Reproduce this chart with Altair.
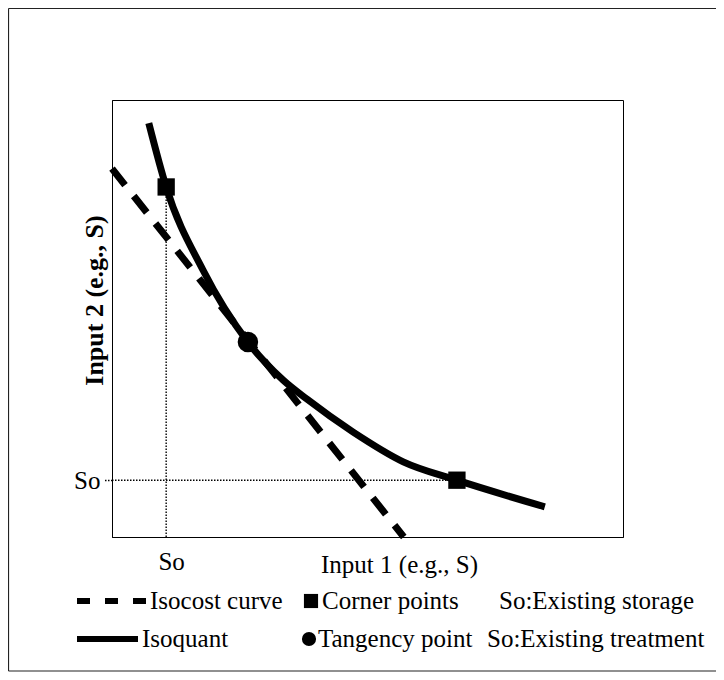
import altair as alt
import pandas as pd

# ---- values (data units: 0-100 on both axes) ----
isoquant_x = [7.2, 10.6, 17.8, 26.6, 33.5, 38.2, 47.2, 57.0, 67.5, 84.7]
isoquant_y = [94.7, 80.1, 61.1, 44.6, 35.9, 31.5, 24.0, 17.2, 13.0, 6.9]
isocost_x = [0.0, 57.1]
isocost_y = [84.3, 0.0]
corner_x = [10.6, 67.5]
corner_y = [80.1, 13.0]
tangency_x = [26.6]
tangency_y = [44.6]
so_storage = 10.6     # existing storage (input 1)
so_treatment = 13.0   # existing treatment (input 2)
x_title = "Input 1 (e.g., S)"
y_title = "Input 2 (e.g., S)"
legend_row1 = ["Isocost curve", "Corner points", "So:Existing storage"]
legend_row2 = ["Isoquant", "Tangency point", "So:Existing treatment"]

FONT = "Liberation Serif"
FS = 25

xscale = alt.Scale(domain=[0, 100], nice=False, zero=False)
yscale = alt.Scale(domain=[0, 100], nice=False, zero=False)

xaxis = alt.Axis(values=[so_storage], labelExpr="'So'", ticks=False, grid=False,
                 domain=True, domainColor="black", domainWidth=1,
                 labelFont=FONT, labelFontSize=FS, labelColor="black", labelPadding=12,
                 labelOffset=5,
                 title=x_title, titleFont=FONT, titleFontSize=FS, titleFontWeight="normal",
                 titleColor="black", titleX=287, titleY=27, titleBaseline="middle",
                 titleAlign="center")
yaxis = alt.Axis(values=[so_treatment], labelExpr="'So'", ticks=True, tickSize=9,
                 tickDash=[1.5, 1.5], tickColor="black", tickWidth=1.3, grid=False,
                 domain=True, domainColor="black", domainWidth=1,
                 labelFont=FONT, labelFontSize=FS, labelColor="black", labelPadding=3,
                 title=y_title, titleFont=FONT, titleFontSize=26, titleFontWeight="bold",
                 titleColor="black", titleAngle=270, titleX=-18, titleY=200,
                 titleBaseline="middle", titleAlign="center")

X = alt.X("x:Q", scale=xscale, axis=xaxis)
Y = alt.Y("y:Q", scale=yscale, axis=yaxis)

one = pd.DataFrame({"k": [0]})

# dotted guide lines
vguide = alt.Chart(pd.DataFrame({"x": [so_storage], "y": [0.0], "y2": [corner_y[0]]})).mark_rule(
    color="black", strokeDash=[1.5, 1.5], strokeWidth=1.4
).encode(x=X, y=Y, y2="y2:Q")
hguide = alt.Chart(pd.DataFrame({"y": [so_treatment], "x": [0.0], "x2": [corner_x[1]]})).mark_rule(
    color="black", strokeDash=[1.5, 1.5], strokeWidth=1.4
).encode(y=Y, x=X, x2="x2:Q")

isocost = alt.Chart(pd.DataFrame({"x": isocost_x, "y": isocost_y})).mark_line(
    color="black", strokeWidth=7, strokeDash=[21, 14], strokeCap="butt"
).encode(x=X, y=Y)

iq = pd.DataFrame({"x": isoquant_x, "y": isoquant_y, "o": list(range(len(isoquant_x)))})
isoquant = alt.Chart(iq).mark_line(
    color="black", strokeWidth=7, strokeJoin="round", strokeCap="butt", interpolate="monotone"
).encode(x=X, y=Y, order="o:Q")

corners = alt.Chart(pd.DataFrame({"x": corner_x, "y": corner_y})).mark_square(
    color="black", opacity=1, size=300
).encode(x=X, y=Y)
tangency = alt.Chart(pd.DataFrame({"x": tangency_x, "y": tangency_y})).mark_circle(
    color="black", opacity=1, size=420
).encode(x=X, y=Y)

layers = [vguide, hguide, isocost, isoquant, corners, tangency]

# outer frame
frame_style = dict(color="#222", strokeWidth=1.2)
layers.append(alt.Chart(one).mark_rule(**frame_style).encode(
    x=alt.value(-103.5), x2=alt.value(620), y=alt.value(-91.5)))
layers.append(alt.Chart(one).mark_rule(**frame_style).encode(
    x=alt.value(-103.5), x2=alt.value(620), y=alt.value(571)))
layers.append(alt.Chart(one).mark_rule(**frame_style).encode(
    x=alt.value(-103.5), y=alt.value(-91.5), y2=alt.value(571)))

# legend
r1, r2 = 501, 539
layers.append(alt.Chart(one).mark_rule(color="black", strokeWidth=6, strokeDash=[13, 15], strokeCap="butt").encode(
    x=alt.value(-35), x2=alt.value(34), y=alt.value(r1)))
layers.append(alt.Chart(one).mark_rule(color="black", strokeWidth=6, strokeCap="butt").encode(
    x=alt.value(-35), x2=alt.value(26), y=alt.value(r2)))
layers.append(alt.Chart(one).mark_square(color="black", opacity=1, size=200).encode(
    x=alt.value(199), y=alt.value(r1)))
layers.append(alt.Chart(one).mark_circle(color="black", opacity=1, size=200).encode(
    x=alt.value(197), y=alt.value(r2)))

def label(txt, x, y):
    return alt.Chart(one).mark_text(
        font=FONT, fontSize=FS, color="black", align="left", baseline="middle"
    ).encode(x=alt.value(x), y=alt.value(y), text=alt.value(txt))

layers += [label(legend_row1[0], 38, r1), label(legend_row1[1], 210, r1), label(legend_row1[2], 387, r1),
           label(legend_row2[0], 30, r2), label(legend_row2[1], 206, r2), label(legend_row2[2], 375, r2)]

chart = alt.layer(*layers).properties(
    width=511, height=437,
    autosize=alt.AutoSizeParams(type="none"),
    padding={"left": 104, "top": 92, "right": 93, "bottom": 135},
    background="white",
).configure_view(stroke="black", strokeWidth=1)

chart.save("out.html", embed_options={"renderer": "svg", "actions": False})
